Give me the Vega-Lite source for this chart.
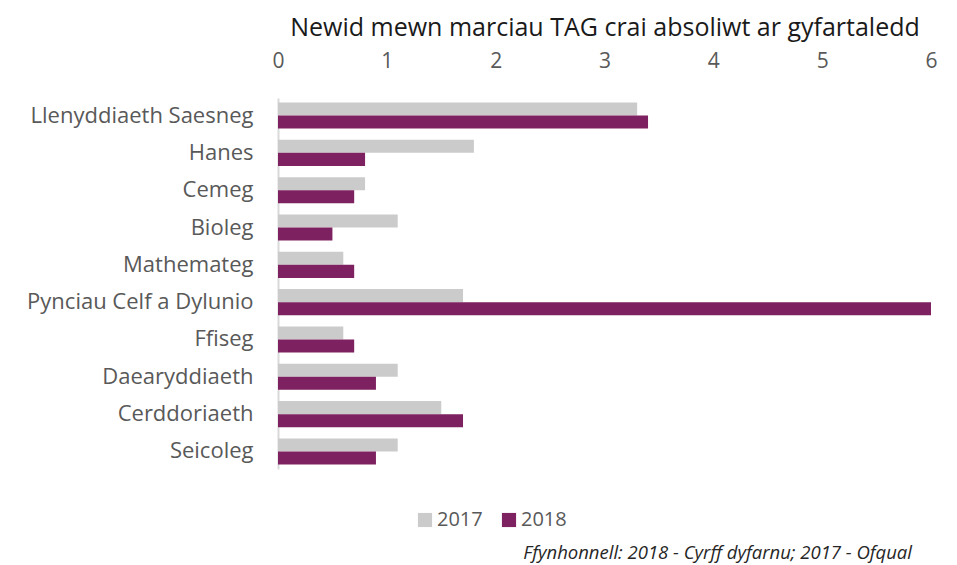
{
  "$schema": "https://vega.github.io/schema/vega-lite/v6.json",
  "width": 653,
  "height": 371,
  "autosize": "none",
  "padding": {"left": 278, "top": 98, "right": 26, "bottom": 96},
  "background": "white",
  "config": {
    "font": "Open Sans",
    "view": {"stroke": null}
  },
  "title": {
    "text": "Ffynhonnell: 2018 - Cyrff dyfarnu; 2017 - Ofqual",
    "orient": "bottom",
    "anchor": "end",
    "fontStyle": "italic",
    "fontWeight": "normal",
    "fontSize": 18.5,
    "color": "#262626",
    "offset": 14,
    "dx": -25
  },
  "data": {
    "values": [
      {"subject": "Llenyddiaeth Saesneg", "year": "2017", "value": 3.3},
      {"subject": "Llenyddiaeth Saesneg", "year": "2018", "value": 3.4},
      {"subject": "Hanes", "year": "2017", "value": 1.8},
      {"subject": "Hanes", "year": "2018", "value": 0.8},
      {"subject": "Cemeg", "year": "2017", "value": 0.8},
      {"subject": "Cemeg", "year": "2018", "value": 0.7},
      {"subject": "Bioleg", "year": "2017", "value": 1.1},
      {"subject": "Bioleg", "year": "2018", "value": 0.5},
      {"subject": "Mathemateg", "year": "2017", "value": 0.6},
      {"subject": "Mathemateg", "year": "2018", "value": 0.7},
      {"subject": "Pynciau Celf a Dylunio", "year": "2017", "value": 1.7},
      {"subject": "Pynciau Celf a Dylunio", "year": "2018", "value": 6.0},
      {"subject": "Ffiseg", "year": "2017", "value": 0.6},
      {"subject": "Ffiseg", "year": "2018", "value": 0.7},
      {"subject": "Daearyddiaeth", "year": "2017", "value": 1.1},
      {"subject": "Daearyddiaeth", "year": "2018", "value": 0.9},
      {"subject": "Cerddoriaeth", "year": "2017", "value": 1.5},
      {"subject": "Cerddoriaeth", "year": "2018", "value": 1.7},
      {"subject": "Seicoleg", "year": "2017", "value": 1.1},
      {"subject": "Seicoleg", "year": "2018", "value": 0.9}
    ]
  },
  "mark": {"type": "bar"},
  "encoding": {
    "y": {
      "field": "subject",
      "type": "nominal",
      "sort": null,
      "scale": {"paddingInner": 0.3, "paddingOuter": 0.12},
      "axis": {
        "title": null,
        "ticks": false,
        "labelFontSize": 22,
        "labelLimit": 320,
        "labelColor": "#595959",
        "labelPadding": 25,
        "domainColor": "#d9d9d9",
        "domainWidth": 2
      }
    },
    "yOffset": {"field": "year", "type": "nominal", "sort": ["2017", "2018"]},
    "x": {
      "field": "value",
      "type": "quantitative",
      "scale": {"domain": [0, 6], "nice": false},
      "axis": {
        "orient": "top",
        "values": [0, 1, 2, 3, 4, 5, 6],
        "grid": false,
        "ticks": false,
        "domain": false,
        "labelFlush": false,
        "labelFontSize": 21,
        "labelColor": "#595959",
        "labelPadding": 27,
        "title": "Newid mewn marciau TAG crai absoliwt ar gyfartaledd",
        "titleFontSize": 25,
        "titleFontWeight": "normal",
        "titleColor": "#1a1a1a",
        "titlePadding": 10
      }
    },
    "color": {
      "field": "year",
      "type": "nominal",
      "scale": {"domain": ["2017", "2018"], "range": ["#CBCBCB", "#7E2160"]},
      "legend": {
        "title": null,
        "orient": "none",
        "legendX": 137,
        "legendY": 412,
        "direction": "horizontal",
        "symbolType": "square",
        "symbolSize": 200,
        "symbolStrokeWidth": 0,
        "symbolOffset": 0,
        "labelOffset": 2,
        "labelFontSize": 20,
        "labelColor": "#595959",
        "columnPadding": 16
      }
    }
  }
}
